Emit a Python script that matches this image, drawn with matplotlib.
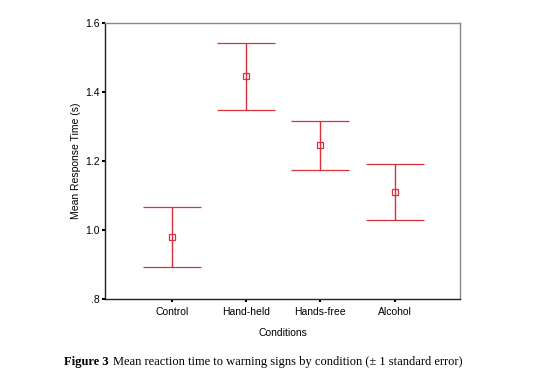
import matplotlib
matplotlib.use("Agg")
import matplotlib.pyplot as plt
import numpy as np

categories = ["Control", "Hand-held", "Hands-free", "Alcohol"]
means = [0.979, 1.446, 1.246, 1.109]
upper = [1.068, 1.543, 1.316, 1.190]
lower = [0.892, 1.348, 1.175, 1.030]
yticks = [0.8, 1.0, 1.2, 1.4, 1.6]
ytick_labels = [".8", "1.0", "1.2", "1.4", "1.6"]

plt.rcParams['font.family'] = ['Liberation Sans', 'DejaVu Sans']
fig = plt.figure(figsize=(5.45, 3.83), dpi=100)
ax = fig.add_axes([0.1927, 0.2193, 0.6514, 0.7206])

x = np.arange(1, len(categories) + 1)
red = '#d8313d'
m = np.array(means)
yerr = [m - np.array(lower), np.array(upper) - m]
ax.errorbar(x, m, yerr=yerr, fmt='s', mfc='none', mec=red, ms=4, mew=0.9,
            ecolor=red, elinewidth=1.0, capsize=21, capthick=1.0)

ax.set_xlim(0.1, 4.88)
ax.set_ylim(0.8, 1.6)
ax.set_xticks(x)
ax.set_xticklabels(categories, fontsize=7.5)
ax.set_yticks(yticks)
ax.set_yticklabels(ytick_labels, fontsize=7.5)
ax.tick_params(axis='y', length=2, width=1.5, pad=2)
ax.tick_params(axis='x', length=2, width=1.5, pad=4)
for s in ['left', 'bottom']:
    ax.spines[s].set_color('#222222')
    ax.spines[s].set_linewidth(1.0)
for s in ['top', 'right']:
    ax.spines[s].set_color('#888888')
    ax.spines[s].set_linewidth(1.0)

ax.set_xlabel("Conditions", fontsize=7.5, labelpad=8)
ax.set_ylabel("Mean Response Time (s)", fontsize=7.5, labelpad=3)

cy = 1 - 362/383
fig.text(0.1175, cy, "Figure 3", fontsize=9, ha='left', va='center',
         family='Liberation Serif', fontweight='bold')
fig.text(0.1175 + 0.0905, cy,
         "Mean reaction time to warning signs by condition (\u00b1 1 standard error)",
         fontsize=9, ha='left', va='center', family='Liberation Serif')

fig.savefig("out.png", dpi=100)
